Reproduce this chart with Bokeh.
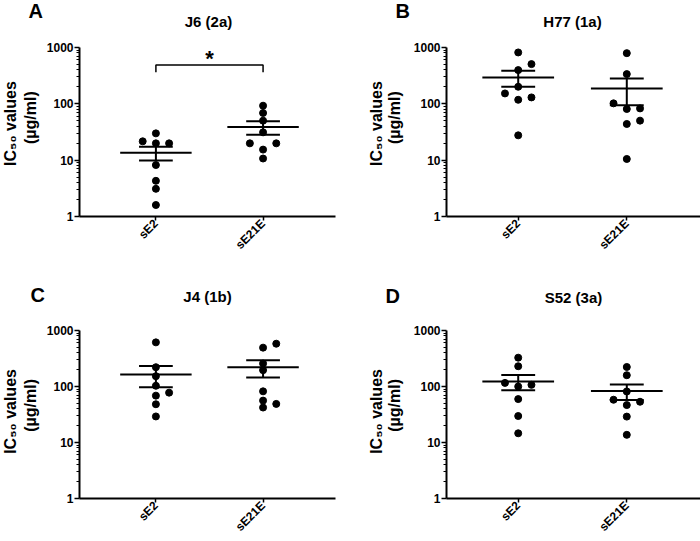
import math
import numpy as np
from bokeh.plotting import figure
from bokeh.layouts import column, row
from bokeh.models import Range1d, FixedTicker, PrintfTickFormatter, Label
from bokeh.embed import file_html
from bokeh.resources import INLINE

# ---------------- data ----------------
categories = ["sE2", "sE21E"]
y_tick_values = [1, 10, 100, 1000]
panel_letters = ["A", "B", "C", "D"]
panel_titles = ["J6 (2a)", "H77 (1a)", "J4 (1b)", "S52 (3a)"]
y_label_line1 = "IC\u2085\u2080 values"
y_label_line2 = "(µg/ml)"

j6_sE2 = [29.9, 21.6, 19.9, 19.9, 8.2, 4.3, 3.1, 1.6]
j6_sE21E = [92.7, 68.8, 50.3, 31.2, 19.9, 19.9, 15.4, 10.7]
h77_sE2 = [817, 507, 397, 201, 153, 130, 118, 27.6]
h77_sE21E = [794, 337, 102, 83, 81, 50.3, 43.9, 10.5]
j4_sE2 = [614, 221, 153, 103, 77.6, 68.7, 48.2, 29.2]
j4_sE21E = [581, 494, 257, 196, 82, 56, 48.9, 42.1]
s52_sE2 = [327, 230, 116, 107, 100, 59.6, 29.7, 14.6]
s52_sE21E = [223, 159, 81.5, 58, 53.4, 46.6, 29.0, 13.7]

j6_significance = "*"
j6_bracket_y = [365, 490]  # foot and top of the comparison bracket (µg/ml)

# ---------------- layout / style (page pixels) ----------------
FONT = "Liberation Sans"
COL_X = [0, 350]
COL_W = [350, 350]
ROW_Y = [0, 270]
ROW_H = [270, 271]
FRAME_H = 169
DECADES = 3
PX_PER_DECADE = FRAME_H / DECADES
DOT = 7
SWARM_STEP_PX = 13.3
MEAN_HALF_PX = 36
SEM_HALF_PX = 17

geoms = [
    dict(col=0, row=0, frame_l=77, frame_t=47, frame_r=335, unit=108, lead=77, header_h=40, strip_w=43,
         letter=(28, 10), title=(208, 21), yl1=10, yl2=30),
    dict(col=1, row=0, frame_l=445, frame_t=47, frame_r=700, unit=109, lead=72, header_h=40, strip_w=60,
         letter=(395, 10), title=(572, 21), yl1=376, yl2=394),
    dict(col=0, row=1, frame_l=77, frame_t=330, frame_r=335, unit=108, lead=77, header_h=50, strip_w=43,
         letter=(30, 294), title=(207, 296), yl1=10, yl2=30),
    dict(col=1, row=1, frame_l=445, frame_t=330, frame_r=700, unit=109, lead=72, header_h=50, strip_w=60,
         letter=(385, 295), title=(573, 297), yl1=376, yl2=394),
]
YLAB1_SHIFT = 12   # centre of first y-title line relative to frame centre (px, down)
YLAB2_SHIFT = 4


def swarm_slots(vals, min_sep=6.5):
    order = np.argsort(vals)
    slots = [0, 1, -1, 2, -2, 3, -3]
    placed = []
    out = [0] * len(vals)
    for i in order:
        lv = math.log10(vals[i])
        chosen = slots[-1]
        for s in slots:
            if all(abs(lv - pl) * PX_PER_DECADE >= min_sep for pl, ps in placed if ps == s):
                chosen = s
                break
        placed.append((lv, chosen))
        out[i] = chosen
    return out


def blank_figure(w, h):
    f = figure(width=w, height=h, x_range=Range1d(0, w), y_range=Range1d(h, 0),
               output_backend="svg", toolbar_location=None,
               x_axis_location=None, y_axis_location=None,
               min_border_left=0, min_border_right=0, min_border_top=0, min_border_bottom=0)
    f.outline_line_color = None
    f.xgrid.visible = False
    f.ygrid.visible = False
    return f


def make_panel(letter, title, series, g, sig=None):
    cx, cw = COL_X[g["col"]], COL_W[g["col"]]
    ry, rh = ROW_Y[g["row"]], ROW_H[g["row"]]
    hh, sw = g["header_h"], g["strip_w"]
    fl, ft, fr = g["frame_l"], g["frame_t"], g["frame_r"]
    fb = ft + FRAME_H
    fw = fr - fl
    unit = g["unit"]
    x0 = -g["lead"] / unit
    x1 = x0 + fw / unit

    # ---- main plot ----
    W, H = cw - sw, rh - hh
    p = figure(width=W, height=H, x_range=Range1d(x0, x1), y_range=Range1d(1, 1000),
               y_axis_type="log", output_backend="svg", toolbar_location=None,
               min_border_left=fl - cx - sw, min_border_top=ft - ry - hh,
               min_border_right=cx + cw - fr, min_border_bottom=ry + rh - fb)
    p.outline_line_color = None
    p.xgrid.visible = False
    p.ygrid.visible = False

    ya = p.yaxis[0]
    ya.ticker = FixedTicker(ticks=y_tick_values,
                            minor_ticks=[m * t for t in y_tick_values[:-1] for m in range(2, 10)])
    ya.formatter = PrintfTickFormatter(format="%d")
    ya.minor_tick_in = 0
    ya.minor_tick_out = 3
    ya.minor_tick_line_width = 1
    ya.minor_tick_line_color = "black"
    ya.major_tick_out = 5
    ya.major_label_standoff = 1

    xa = p.xaxis[0]
    xa.ticker = FixedTicker(ticks=list(range(len(categories))))
    xa.major_label_overrides = {i: c for i, c in enumerate(categories)}
    xa.major_label_orientation = math.pi / 4
    xa.minor_tick_line_color = None
    xa.major_tick_out = 4
    xa.major_label_standoff = 1

    for ax in (xa, ya):
        ax.axis_line_width = 2
        ax.axis_line_color = "black"
        ax.major_tick_line_width = 1.5
        ax.major_tick_line_color = "black"
        ax.major_tick_in = 0
        ax.major_label_text_font = FONT
        ax.major_label_text_font_style = "bold"
        ax.major_label_text_font_size = "12px"
        ax.major_label_text_color = "black"

    step = SWARM_STEP_PX / unit
    mh = MEAN_HALF_PX / unit
    sh = SEM_HALF_PX / unit
    for ci, vals in enumerate(series):
        slots = swarm_slots(vals)
        xs = [ci + s * step for s in slots]
        p.scatter(xs, vals, size=DOT, color="black", line_color="black")
        arr = np.array(vals, dtype=float)
        mean = arr.mean()
        sem = arr.std(ddof=1) / math.sqrt(len(arr))
        p.segment(x0=[ci - mh, ci - sh, ci - sh, ci], y0=[mean, mean + sem, mean - sem, mean - sem],
                  x1=[ci + mh, ci + sh, ci + sh, ci], y1=[mean, mean + sem, mean - sem, mean + sem],
                  line_color="black", line_width=2)

    if sig is not None:
        mark, (yb, yt) = sig
        p.line([0, 0, 1, 1], [yb, yt, yt, yb], line_color="black", line_width=1.5)
        p.add_layout(Label(x=0.5, y=yt, y_offset=6, text=mark, text_font=FONT, text_font_style="bold",
                           text_font_size="22px", text_align="center", text_baseline="alphabetic",
                           text_color="black"))

    # ---- header with panel letter and title ----
    hdr = blank_figure(cw, hh)
    hdr.add_layout(Label(x=g["letter"][0] - cx, y=g["letter"][1] - ry, text=letter, text_font=FONT,
                         text_font_style="bold", text_font_size="20px", text_align="left",
                         text_baseline="middle", text_color="black"))
    hdr.add_layout(Label(x=g["title"][0] - cx, y=g["title"][1] - ry, text=title, text_font=FONT,
                         text_font_style="bold", text_font_size="15px", text_align="center",
                         text_baseline="middle", text_color="black"))

    # ---- left strip with the y-axis title ----
    st = blank_figure(sw, H)
    oy = ry + hh
    fc = (ft + fb) / 2
    common = dict(text_font=FONT, text_font_style="bold", angle=math.pi / 2, text_font_size="16px",
                  text_baseline="middle", text_align="center", text_color="black")
    st.add_layout(Label(x=g["yl1"] - cx, y=fc + YLAB1_SHIFT - oy, text=y_label_line1, **common))
    st.add_layout(Label(x=g["yl2"] - cx, y=fc + YLAB2_SHIFT - oy, text=y_label_line2, **common))

    return column(hdr, row(st, p))


panels_data = [
    (j6_sE2, j6_sE21E),
    (h77_sE2, h77_sE21E),
    (j4_sE2, j4_sE21E),
    (s52_sE2, s52_sE21E),
]

panels = []
for i in range(4):
    sig = (j6_significance, j6_bracket_y) if i == 0 else None
    panels.append(make_panel(panel_letters[i], panel_titles[i], panels_data[i], geoms[i], sig))

layout = column(row(panels[0], panels[1]), row(panels[2], panels[3]))
open("out.html", "w").write(file_html(layout, INLINE))
